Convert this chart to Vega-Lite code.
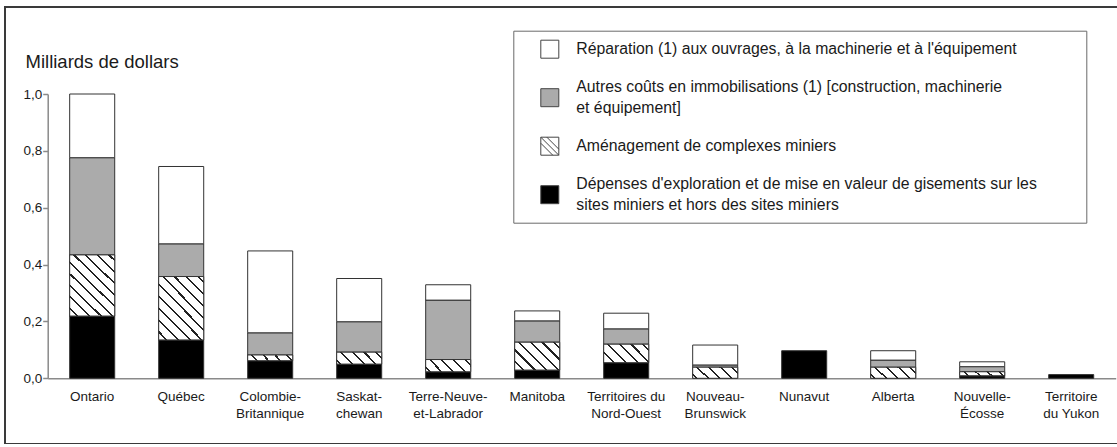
{
  "$schema": "https://vega.github.io/schema/vega-lite/v6.json",
  "width": 1130,
  "height": 437,
  "autosize": {"type": "none"},
  "padding": {"left": 5, "top": 7, "right": 0, "bottom": 0},
  "background": "white",
  "config": {"font": "Liberation Sans", "view": {"stroke": "#3a3a3a", "strokeWidth": 2}},
  "data": {"values": [
    {"province": "Ontario", "cat": "expl", "rang": 1, "val": 0.219},
    {"province": "Ontario", "cat": "amen", "rang": 2, "val": 0.215},
    {"province": "Ontario", "cat": "autres", "rang": 3, "val": 0.342},
    {"province": "Ontario", "cat": "rep", "rang": 4, "val": 0.224},
    {"province": "Québec", "cat": "expl", "rang": 1, "val": 0.135},
    {"province": "Québec", "cat": "amen", "rang": 2, "val": 0.223},
    {"province": "Québec", "cat": "autres", "rang": 3, "val": 0.115},
    {"province": "Québec", "cat": "rep", "rang": 4, "val": 0.272},
    {"province": "Colombie-Britannique", "cat": "expl", "rang": 1, "val": 0.062},
    {"province": "Colombie-Britannique", "cat": "amen", "rang": 2, "val": 0.020},
    {"province": "Colombie-Britannique", "cat": "autres", "rang": 3, "val": 0.078},
    {"province": "Colombie-Britannique", "cat": "rep", "rang": 4, "val": 0.288},
    {"province": "Saskatchewan", "cat": "expl", "rang": 1, "val": 0.050},
    {"province": "Saskatchewan", "cat": "amen", "rang": 2, "val": 0.042},
    {"province": "Saskatchewan", "cat": "autres", "rang": 3, "val": 0.107},
    {"province": "Saskatchewan", "cat": "rep", "rang": 4, "val": 0.152},
    {"province": "Terre-Neuve-et-Labrador", "cat": "expl", "rang": 1, "val": 0.023},
    {"province": "Terre-Neuve-et-Labrador", "cat": "amen", "rang": 2, "val": 0.043},
    {"province": "Terre-Neuve-et-Labrador", "cat": "autres", "rang": 3, "val": 0.209},
    {"province": "Terre-Neuve-et-Labrador", "cat": "rep", "rang": 4, "val": 0.054},
    {"province": "Manitoba", "cat": "expl", "rang": 1, "val": 0.029},
    {"province": "Manitoba", "cat": "amen", "rang": 2, "val": 0.098},
    {"province": "Manitoba", "cat": "autres", "rang": 3, "val": 0.075},
    {"province": "Manitoba", "cat": "rep", "rang": 4, "val": 0.035},
    {"province": "Territoires du Nord-Ouest", "cat": "expl", "rang": 1, "val": 0.055},
    {"province": "Territoires du Nord-Ouest", "cat": "amen", "rang": 2, "val": 0.065},
    {"province": "Territoires du Nord-Ouest", "cat": "autres", "rang": 3, "val": 0.054},
    {"province": "Territoires du Nord-Ouest", "cat": "rep", "rang": 4, "val": 0.055},
    {"province": "Nouveau-Brunswick", "cat": "amen", "rang": 2, "val": 0.039},
    {"province": "Nouveau-Brunswick", "cat": "autres", "rang": 3, "val": 0.008},
    {"province": "Nouveau-Brunswick", "cat": "rep", "rang": 4, "val": 0.070},
    {"province": "Nunavut", "cat": "expl", "rang": 1, "val": 0.097},
    {"province": "Alberta", "cat": "amen", "rang": 2, "val": 0.039},
    {"province": "Alberta", "cat": "autres", "rang": 3, "val": 0.025},
    {"province": "Alberta", "cat": "rep", "rang": 4, "val": 0.033},
    {"province": "Nouvelle-Écosse", "cat": "expl", "rang": 1, "val": 0.009},
    {"province": "Nouvelle-Écosse", "cat": "amen", "rang": 2, "val": 0.014},
    {"province": "Nouvelle-Écosse", "cat": "autres", "rang": 3, "val": 0.018},
    {"province": "Nouvelle-Écosse", "cat": "rep", "rang": 4, "val": 0.017},
    {"province": "Territoire du Yukon", "cat": "expl", "rang": 1, "val": 0.013}
  ]},
  "transform": [
    {"stack": "val", "groupby": ["province"], "sort": [{"field": "rang", "order": "ascending"}], "as": ["v0", "v1"]}
  ],
  "encoding": {
    "x": {
      "field": "province", "type": "nominal",
      "sort": ["Ontario", "Québec", "Colombie-Britannique", "Saskatchewan", "Terre-Neuve-et-Labrador", "Manitoba", "Territoires du Nord-Ouest", "Nouveau-Brunswick", "Nunavut", "Alberta", "Nouvelle-Écosse", "Territoire du Yukon"],
      "scale": {"range": [42.7, 1110.7], "paddingInner": 0.494, "paddingOuter": 0.247},
      "axis": {
        "title": null, "orient": "bottom", "offset": -65.7, "ticks": false, "tickSize": 0,
        "domainColor": "#8a8a8a", "domainWidth": 1.5, "labelAngle": 0, "labelFontSize": 13.5,
        "labelColor": "#1a1a1a", "labelPadding": 21.7, "labelBaseline": "alphabetic", "labelLineHeight": 17,
        "labelLimit": 300, "labelOverlap": false,
        "labelExpr": "datum.label === 'Colombie-Britannique' ? ['Colombie-', 'Britannique'] : datum.label === 'Saskatchewan' ? ['Saskat-', 'chewan'] : datum.label === 'Terre-Neuve-et-Labrador' ? ['Terre-Neuve-', 'et-Labrador'] : datum.label === 'Territoires du Nord-Ouest' ? ['Territoires du', 'Nord-Ouest'] : datum.label === 'Nouveau-Brunswick' ? ['Nouveau-', 'Brunswick'] : datum.label === 'Nouvelle-Écosse' ? ['Nouvelle-', 'Écosse'] : datum.label === 'Territoire du Yukon' ? ['Territoire', 'du Yukon'] : datum.label"
      }
    },
    "y": {
      "field": "v1", "type": "quantitative",
      "scale": {"domain": [0, 1], "range": [371.3, 87], "nice": false},
      "axis": {
        "title": "Milliards de dollars", "titleAngle": 0, "titleAlign": "left", "titleBaseline": "alphabetic",
        "titleX": -22.7, "titleY": 60.3, "titleFontSize": 18.5, "titleFontWeight": "normal", "titleColor": "#1a1a1a",
        "offset": -42.7, "values": [0, 0.2, 0.4, 0.6, 0.8, 1], "grid": false,
        "domainColor": "#8a8a8a", "domainWidth": 1.5, "tickColor": "#8a8a8a", "tickSize": 5, "tickWidth": 1.5,
        "labelFontSize": 13.5, "labelColor": "#1a1a1a", "labelPadding": 1,
        "labelExpr": "replace(format(datum.value, '.1f'), '.', ',')"
      }
    },
    "y2": {"field": "v0"}
  },
  "layer": [
    {
      "mark": {"type": "bar", "stroke": "#333333", "strokeWidth": 1},
      "encoding": {
        "fill": {
          "field": "cat", "type": "nominal",
          "scale": {"domain": ["rep", "autres", "amen", "expl"], "range": ["#ffffff", "#ababab", "#ffffff", "#000000"]},
          "legend": {
            "orient": "none", "legendX": 508.3, "legendY": 23.7, "direction": "vertical", "title": null,
            "padding": 9, "rowPadding": 11.5, "symbolType": "square", "symbolSize": 324, "symbolOffset": 18,
            "symbolStrokeColor": "#444444", "symbolStrokeWidth": 1,
            "labelOffset": 17, "labelFontSize": 15.8, "labelColor": "#1a1a1a", "labelLimit": 1200,
            "fillColor": "#ffffff", "strokeColor": "#6a6a6a",
            "encode": {
              "labels": {"update": {"dy": {"value": -10.5}, "lineHeight": {"value": 10.5}}},
              "symbols": {"update": {
                "stroke": {"value": "#444444"},
                "strokeWidth": {"value": 1},
                "shape": [
                  {"test": "datum.value === 'amen'", "value": "M-1,-1H1V1H-1Z M-0.33,-1L1,0.33 M-1,-1L1,1 M-1,-0.33L0.33,1"},
                  {"value": "square"}
                ]
              }}
            },
            "labelExpr": "datum.value === 'rep' ? ['\u200b\u00a0\u200b', \"Réparation (1) aux ouvrages, à la machinerie et à l'équipement\", '\u200b\u00a0\u200b'] : datum.value === 'autres' ? ['Autres coûts en immobilisations (1) [construction, machinerie', '\u200b\u00a0\u200b', 'et équipement]'] : datum.value === 'amen' ? ['\u200b\u00a0\u200b', 'Aménagement de complexes miniers', '\u200b\u00a0\u200b'] : [\"Dépenses d'exploration et de mise en valeur de gisements sur les\u00a0\u00a0\u00a0\u00a0\u00a0\u00a0\u00a0\u00a0\u00a0\u200b\", '\u200b\u00a0\u200b', 'sites miniers et hors des sites miniers']"
          }
        }
      }
    },
    {
      "transform": [{"filter": "datum.cat === 'amen'"}],
      "mark": {"type": "bar", "stroke": "#333333", "strokeWidth": 1},
      "encoding": {
        "fill": {
          "condition": [
            {"test": "datum.province === 'Ontario' || datum.province === 'Québec'", "value": {"gradient": "linear", "x1": 1, "y1": 0, "x2": 0.110, "y2": 1.231, "stops": [{"offset":0,"color":"#fff"},{"offset":0.041,"color":"#fff"},{"offset":0.041,"color":"#222"},{"offset":0.059,"color":"#222"},{"offset":0.059,"color":"#fff"},{"offset":0.141,"color":"#fff"},{"offset":0.141,"color":"#222"},{"offset":0.159,"color":"#222"},{"offset":0.159,"color":"#fff"},{"offset":0.241,"color":"#fff"},{"offset":0.241,"color":"#222"},{"offset":0.259,"color":"#222"},{"offset":0.259,"color":"#fff"},{"offset":0.341,"color":"#fff"},{"offset":0.341,"color":"#222"},{"offset":0.359,"color":"#222"},{"offset":0.359,"color":"#fff"},{"offset":0.441,"color":"#fff"},{"offset":0.441,"color":"#222"},{"offset":0.459,"color":"#222"},{"offset":0.459,"color":"#fff"},{"offset":0.541,"color":"#fff"},{"offset":0.541,"color":"#222"},{"offset":0.559,"color":"#222"},{"offset":0.559,"color":"#fff"},{"offset":0.641,"color":"#fff"},{"offset":0.641,"color":"#222"},{"offset":0.659,"color":"#222"},{"offset":0.659,"color":"#fff"},{"offset":0.741,"color":"#fff"},{"offset":0.741,"color":"#222"},{"offset":0.759,"color":"#222"},{"offset":0.759,"color":"#fff"},{"offset":0.841,"color":"#fff"},{"offset":0.841,"color":"#222"},{"offset":0.859,"color":"#222"},{"offset":0.859,"color":"#fff"},{"offset":0.941,"color":"#fff"},{"offset":0.941,"color":"#222"},{"offset":0.959,"color":"#222"},{"offset":0.959,"color":"#fff"},{"offset":1,"color":"#fff"}]}},
            {"test": "datum.province === 'Manitoba'", "value": {"gradient": "linear", "x1": 1, "y1": 0, "x2": -0.873, "y2": 1.161, "stops": [{"offset":0,"color":"#fff"},{"offset":0.041,"color":"#fff"},{"offset":0.041,"color":"#222"},{"offset":0.059,"color":"#222"},{"offset":0.059,"color":"#fff"},{"offset":0.141,"color":"#fff"},{"offset":0.141,"color":"#222"},{"offset":0.159,"color":"#222"},{"offset":0.159,"color":"#fff"},{"offset":0.241,"color":"#fff"},{"offset":0.241,"color":"#222"},{"offset":0.259,"color":"#222"},{"offset":0.259,"color":"#fff"},{"offset":0.341,"color":"#fff"},{"offset":0.341,"color":"#222"},{"offset":0.359,"color":"#222"},{"offset":0.359,"color":"#fff"},{"offset":0.441,"color":"#fff"},{"offset":0.441,"color":"#222"},{"offset":0.459,"color":"#222"},{"offset":0.459,"color":"#fff"},{"offset":0.541,"color":"#fff"},{"offset":0.541,"color":"#222"},{"offset":0.559,"color":"#222"},{"offset":0.559,"color":"#fff"},{"offset":0.641,"color":"#fff"},{"offset":0.641,"color":"#222"},{"offset":0.659,"color":"#222"},{"offset":0.659,"color":"#fff"},{"offset":0.741,"color":"#fff"},{"offset":0.741,"color":"#222"},{"offset":0.759,"color":"#222"},{"offset":0.759,"color":"#fff"},{"offset":0.841,"color":"#fff"},{"offset":0.841,"color":"#222"},{"offset":0.859,"color":"#222"},{"offset":0.859,"color":"#fff"},{"offset":0.941,"color":"#fff"},{"offset":0.941,"color":"#222"},{"offset":0.959,"color":"#222"},{"offset":0.959,"color":"#fff"},{"offset":1,"color":"#fff"}]}},
            {"test": "datum.province === 'Territoires du Nord-Ouest'", "value": {"gradient": "linear", "x1": 1, "y1": 0, "x2": -1.225, "y2": 0.905, "stops": [{"offset":0,"color":"#fff"},{"offset":0.041,"color":"#fff"},{"offset":0.041,"color":"#222"},{"offset":0.059,"color":"#222"},{"offset":0.059,"color":"#fff"},{"offset":0.141,"color":"#fff"},{"offset":0.141,"color":"#222"},{"offset":0.159,"color":"#222"},{"offset":0.159,"color":"#fff"},{"offset":0.241,"color":"#fff"},{"offset":0.241,"color":"#222"},{"offset":0.259,"color":"#222"},{"offset":0.259,"color":"#fff"},{"offset":0.341,"color":"#fff"},{"offset":0.341,"color":"#222"},{"offset":0.359,"color":"#222"},{"offset":0.359,"color":"#fff"},{"offset":0.441,"color":"#fff"},{"offset":0.441,"color":"#222"},{"offset":0.459,"color":"#222"},{"offset":0.459,"color":"#fff"},{"offset":0.541,"color":"#fff"},{"offset":0.541,"color":"#222"},{"offset":0.559,"color":"#222"},{"offset":0.559,"color":"#fff"},{"offset":0.641,"color":"#fff"},{"offset":0.641,"color":"#222"},{"offset":0.659,"color":"#222"},{"offset":0.659,"color":"#fff"},{"offset":0.741,"color":"#fff"},{"offset":0.741,"color":"#222"},{"offset":0.759,"color":"#222"},{"offset":0.759,"color":"#fff"},{"offset":0.841,"color":"#fff"},{"offset":0.841,"color":"#222"},{"offset":0.859,"color":"#222"},{"offset":0.859,"color":"#fff"},{"offset":0.941,"color":"#fff"},{"offset":0.941,"color":"#222"},{"offset":0.959,"color":"#222"},{"offset":0.959,"color":"#fff"},{"offset":1,"color":"#fff"}]}},
            {"test": "datum.province === 'Colombie-Britannique' || datum.province === 'Nouvelle-Écosse'", "value": {"gradient": "linear", "x1": 1, "y1": 0, "x2": -1.563, "y2": 0.277, "stops": [{"offset":0,"color":"#fff"},{"offset":0.041,"color":"#fff"},{"offset":0.041,"color":"#222"},{"offset":0.059,"color":"#222"},{"offset":0.059,"color":"#fff"},{"offset":0.141,"color":"#fff"},{"offset":0.141,"color":"#222"},{"offset":0.159,"color":"#222"},{"offset":0.159,"color":"#fff"},{"offset":0.241,"color":"#fff"},{"offset":0.241,"color":"#222"},{"offset":0.259,"color":"#222"},{"offset":0.259,"color":"#fff"},{"offset":0.341,"color":"#fff"},{"offset":0.341,"color":"#222"},{"offset":0.359,"color":"#222"},{"offset":0.359,"color":"#fff"},{"offset":0.441,"color":"#fff"},{"offset":0.441,"color":"#222"},{"offset":0.459,"color":"#222"},{"offset":0.459,"color":"#fff"},{"offset":0.541,"color":"#fff"},{"offset":0.541,"color":"#222"},{"offset":0.559,"color":"#222"},{"offset":0.559,"color":"#fff"},{"offset":0.641,"color":"#fff"},{"offset":0.641,"color":"#222"},{"offset":0.659,"color":"#222"},{"offset":0.659,"color":"#fff"},{"offset":0.741,"color":"#fff"},{"offset":0.741,"color":"#222"},{"offset":0.759,"color":"#222"},{"offset":0.759,"color":"#fff"},{"offset":0.841,"color":"#fff"},{"offset":0.841,"color":"#222"},{"offset":0.859,"color":"#222"},{"offset":0.859,"color":"#fff"},{"offset":0.941,"color":"#fff"},{"offset":0.941,"color":"#222"},{"offset":0.959,"color":"#222"},{"offset":0.959,"color":"#fff"},{"offset":1,"color":"#fff"}]}}
          ],
          "value": {"gradient": "linear", "x1": 1, "y1": 0, "x2": -1.429, "y2": 0.631, "stops": [{"offset":0,"color":"#fff"},{"offset":0.041,"color":"#fff"},{"offset":0.041,"color":"#222"},{"offset":0.059,"color":"#222"},{"offset":0.059,"color":"#fff"},{"offset":0.141,"color":"#fff"},{"offset":0.141,"color":"#222"},{"offset":0.159,"color":"#222"},{"offset":0.159,"color":"#fff"},{"offset":0.241,"color":"#fff"},{"offset":0.241,"color":"#222"},{"offset":0.259,"color":"#222"},{"offset":0.259,"color":"#fff"},{"offset":0.341,"color":"#fff"},{"offset":0.341,"color":"#222"},{"offset":0.359,"color":"#222"},{"offset":0.359,"color":"#fff"},{"offset":0.441,"color":"#fff"},{"offset":0.441,"color":"#222"},{"offset":0.459,"color":"#222"},{"offset":0.459,"color":"#fff"},{"offset":0.541,"color":"#fff"},{"offset":0.541,"color":"#222"},{"offset":0.559,"color":"#222"},{"offset":0.559,"color":"#fff"},{"offset":0.641,"color":"#fff"},{"offset":0.641,"color":"#222"},{"offset":0.659,"color":"#222"},{"offset":0.659,"color":"#fff"},{"offset":0.741,"color":"#fff"},{"offset":0.741,"color":"#222"},{"offset":0.759,"color":"#222"},{"offset":0.759,"color":"#fff"},{"offset":0.841,"color":"#fff"},{"offset":0.841,"color":"#222"},{"offset":0.859,"color":"#222"},{"offset":0.859,"color":"#fff"},{"offset":0.941,"color":"#fff"},{"offset":0.941,"color":"#222"},{"offset":0.959,"color":"#222"},{"offset":0.959,"color":"#fff"},{"offset":1,"color":"#fff"}]}
        }
      }
    }
  ]
}
